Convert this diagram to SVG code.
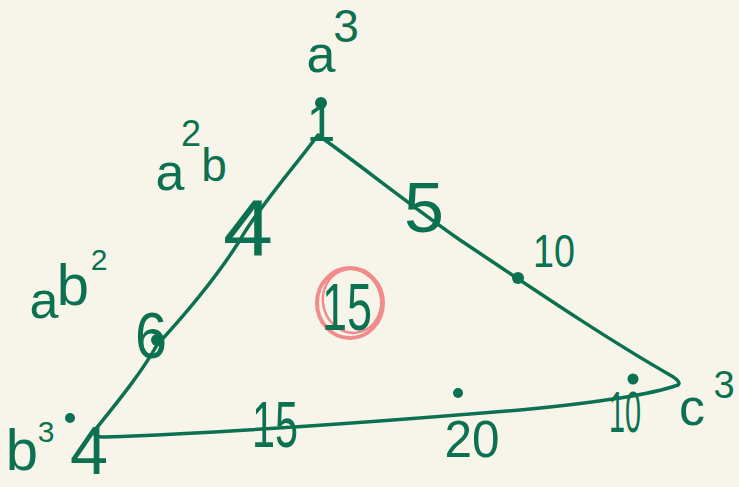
<svg xmlns="http://www.w3.org/2000/svg" width="739" height="487" viewBox="0 0 739 487">
<style>
.t{font-family:"Liberation Sans","DejaVu Sans",sans-serif;fill:#0b7150;text-anchor:middle}
.e{fill:none;stroke:#0b7150;stroke-width:3.5;stroke-linecap:round;stroke-linejoin:round}
.d{fill:#0b7150}
</style>
<rect width="739" height="487" fill="#f7f5ea"/>
<g id="connectors">
<path class="e" d="M318,135 C300,160 260,205 240,240 C215,280 180,320 157,345 C140,375 115,405 95,430 Q92,438 105,437 C250,432 400,420 520,410 C600,402 650,395 678,385 Q682,382 670,375 C600,335 520,280 460,240 C410,205 360,165 318,135"/>
</g>
<g id="top">
<text class="t" x="321" y="72" font-size="52">a</text>
<text class="t" x="346" y="42" font-size="46">3</text>
<circle class="d" cx="321" cy="103" r="6"/>
<text class="t" x="321" y="141" font-size="52">1</text>
</g>
<g id="a2b">
<text class="t" x="170" y="190" font-size="52">a</text>
<text class="t" x="191" y="146" font-size="36">2</text>
<text class="t" x="214" y="181" font-size="46">b</text>
</g>
<g id="edge4">
<text class="t" x="248" y="255" font-size="80" textLength="50" lengthAdjust="spacingAndGlyphs">4</text>
</g>
<g id="ab2">
<text class="t" x="44" y="318" font-size="52">a</text>
<text class="t" x="73" y="305" font-size="58">b</text>
<text class="t" x="99" y="270" font-size="30">2</text>
</g>
<g id="edge6">
<circle class="d" cx="157" cy="340" r="6"/>
<text class="t" x="151" y="358" font-size="64" textLength="32" lengthAdjust="spacingAndGlyphs">6</text>
</g>
<g id="b3">
<text class="t" x="22" y="470" font-size="58">b</text>
<text class="t" x="46" y="442" font-size="30">3</text>
<circle class="d" cx="70" cy="418" r="5"/>
<text class="t" x="89" y="474" font-size="68" textLength="38" lengthAdjust="spacingAndGlyphs">4</text>
</g>
<g id="edge5">
<text class="t" x="424" y="232" font-size="70" textLength="40" lengthAdjust="spacingAndGlyphs">5</text>
</g>
<g id="edge10">
<circle class="d" cx="518" cy="278" r="6"/>
<text class="t" x="554" y="267" font-size="46" textLength="42" lengthAdjust="spacingAndGlyphs">10</text>
</g>
<g id="center">
<ellipse cx="350" cy="303" rx="33" ry="35" fill="none" stroke="#f28b8b" stroke-width="4"/>
<ellipse cx="352" cy="301" rx="29" ry="32" fill="none" stroke="#f28b8b" stroke-width="2.5" transform="rotate(-15 352 301)"/>
<text class="t" x="347" y="330" font-size="66" textLength="50" lengthAdjust="spacingAndGlyphs">15</text>
</g>
<g id="bottom15">
<text class="t" x="275" y="447" font-size="64" textLength="46" lengthAdjust="spacingAndGlyphs">15</text>
</g>
<g id="bottom20">
<circle class="d" cx="458" cy="393" r="5"/>
<text class="t" x="472" y="457" font-size="52" textLength="55" lengthAdjust="spacingAndGlyphs">20</text>
</g>
<g id="bottom10">
<circle class="d" cx="633" cy="379" r="5.5"/>
<text class="t" x="625" y="432" font-size="58" textLength="32" lengthAdjust="spacingAndGlyphs">10</text>
</g>
<g id="c3">
<text class="t" x="692" y="425" font-size="52">c</text>
<text class="t" x="724" y="398" font-size="38">3</text>
</g>
</svg>
